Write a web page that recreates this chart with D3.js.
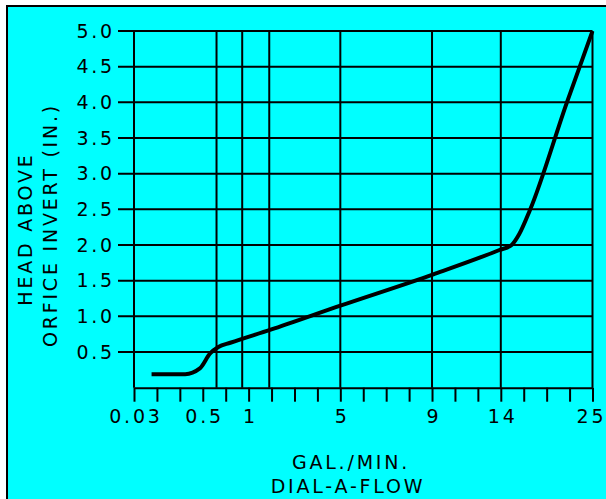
<!DOCTYPE html>
<html>
<head>
<meta charset="utf-8">
<script src="https://cdn.jsdelivr.net/npm/d3@7"></script>
<style>
  body { margin: 0; background: #fff; }
  text { font-family: "DejaVu Sans", sans-serif; fill: #000; }
</style>
</head>
<body>
<div id="chart"></div>
<script>
// flow (gal/min) vs head above orifice invert (in.)
var flow = [0.15, 0.38, 0.48, 0.58, 0.67, 0.8, 1.93, 5, 9.1, 13.9, 15.3, 16.2, 17.5, 21.9, 25];
var head = [0.19, 0.19, 0.27, 0.48, 0.57, 0.63, 0.81, 1.15, 1.59, 1.93, 2.0, 2.15, 2.49, 3.99, 5.0];

// x axis labels and where they sit on the 20-step tick ruler
var xLabels = [0.03, 0.5, 1, 5, 9, 14, 25];
var xLabelStep = [0, 3, 5, 9, 13, 16, 20];
var xGrid = [0.65, 0.93, 1.9, 5, 9, 14, 25];
var yTicks = [0.5, 1, 1.5, 2, 2.5, 3, 3.5, 4, 4.5, 5];

var svgWidth = 606;
var svgHeight = 499;
var margin = { top: 31, left: 134 };
var width = 458.5;
var height = 356.7;
var fontSize = 19;
var spacing = '2.8px';

var svg = d3.select('#chart')
  .append('svg')
  .attr('width', svgWidth)
  .attr('height', svgHeight);

// cyan panel with black frame (runs off the right/bottom edges)
svg.append('rect')
  .attr('x', 7)
  .attr('y', 6)
  .attr('width', 620)
  .attr('height', 520)
  .attr('fill', '#00ffff')
  .attr('stroke', '#000')
  .attr('stroke-width', 2);

var chartGroup = svg.append('g')
  .attr('transform', `translate(${margin.left}, ${margin.top})`);

var stepScale = d3.scaleLinear().domain([0, 20]).range([0, width]);
var xScale = d3.scaleLinear()
  .domain(xLabels)
  .range(xLabelStep.map(function (s) { return stepScale(s); }));
var yScale = d3.scaleLinear().domain([0, 5]).range([height, 0]);

// horizontal grid lines, sticking out left as ticks
chartGroup.selectAll('.hgrid')
  .data(yTicks)
  .enter()
  .append('line')
  .attr('x1', -16)
  .attr('x2', width)
  .attr('y1', function (d) { return yScale(d); })
  .attr('y2', function (d) { return yScale(d); })
  .attr('stroke', '#000')
  .attr('stroke-width', 2);

// vertical grid lines
chartGroup.selectAll('.vgrid')
  .data(xGrid)
  .enter()
  .append('line')
  .attr('x1', function (d) { return xScale(d); })
  .attr('x2', function (d) { return xScale(d); })
  .attr('y1', 0)
  .attr('y2', height)
  .attr('stroke', '#000')
  .attr('stroke-width', 2);

// left frame
chartGroup.append('line')
  .attr('x1', 0).attr('x2', 0).attr('y1', 0).attr('y2', height)
  .attr('stroke', '#000').attr('stroke-width', 2);

// y labels
var leftAxis = d3.axisLeft(yScale)
  .tickValues(yTicks)
  .tickSize(16)
  .tickPadding(3)
  .tickFormat(d3.format('.1f'));
var yAxis = chartGroup.append('g').call(leftAxis);
yAxis.select('.domain').remove();
yAxis.selectAll('line').remove();
yAxis.selectAll('text')
  .attr('font-size', fontSize)
  .attr('font-family', 'DejaVu Sans')
  .style('letter-spacing', spacing);

// bottom ruler ticks
var stepAxis = d3.axisBottom(stepScale)
  .tickValues(d3.range(21))
  .tickSize(14)
  .tickSizeOuter(0)
  .tickFormat('');
var ruler = chartGroup.append('g')
  .attr('transform', `translate(0, ${height})`)
  .call(stepAxis);
ruler.selectAll('line').attr('stroke-width', 2);
ruler.select('.domain').attr('stroke-width', 2);

// bottom labels
var bottomAxis = d3.axisBottom(xScale)
  .tickValues(xLabels)
  .tickSize(0)
  .tickPadding(22)
  .tickFormat(function (d) { return String(d); });
var xAxis = chartGroup.append('g')
  .attr('transform', `translate(0, ${height})`)
  .call(bottomAxis);
xAxis.select('.domain').remove();
xAxis.selectAll('text')
  .attr('font-size', fontSize)
  .attr('font-family', 'DejaVu Sans')
  .attr('dx', function (d) { return d === 25 ? -1.5 : 1.4; })
  .style('letter-spacing', spacing);

// the curve
var points = flow.map(function (f, i) { return [f, head[i]]; });
var line = d3.line()
  .x(function (d) { return xScale(d[0]); })
  .y(function (d) { return yScale(d[1]); })
  .curve(d3.curveMonotoneX);
chartGroup.append('path')
  .datum(points)
  .attr('d', line)
  .attr('fill', 'none')
  .attr('stroke', '#000')
  .attr('stroke-width', 4);

// axis titles
svg.append('text')
  .attr('x', 351)
  .attr('y', 469)
  .attr('text-anchor', 'middle')
  .attr('font-size', fontSize)
  .style('letter-spacing', spacing)
  .text('GAL./MIN.');
svg.append('text')
  .attr('x', 348)
  .attr('y', 493)
  .attr('text-anchor', 'middle')
  .attr('font-size', fontSize)
  .style('letter-spacing', spacing)
  .text('DIAL-A-FLOW');

svg.append('text')
  .attr('transform', 'translate(32, 229) rotate(-90)')
  .attr('text-anchor', 'middle')
  .attr('font-size', fontSize)
  .style('letter-spacing', spacing)
  .text('HEAD ABOVE');
svg.append('text')
  .attr('transform', 'translate(57, 225) rotate(-90)')
  .attr('text-anchor', 'middle')
  .attr('font-size', fontSize)
  .style('letter-spacing', spacing)
  .text('ORFICE INVERT (IN.)');
</script>
</body>
</html>
